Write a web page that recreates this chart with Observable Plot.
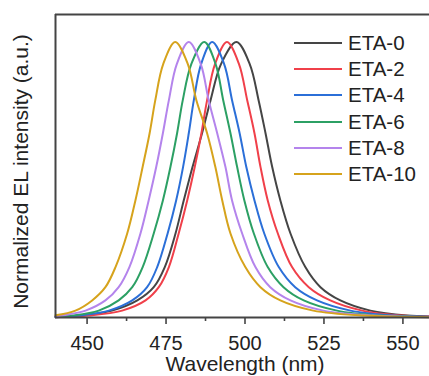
<!DOCTYPE html>
<html>
<head>
<meta charset="utf-8">
<script src="https://cdn.jsdelivr.net/npm/d3@7"></script>
<script src="https://cdn.jsdelivr.net/npm/@observablehq/plot@0.6"></script>
<style>
  body { margin: 0; background: #fff; }
  #wrap { position: relative; width: 429px; height: 376px; overflow: hidden; background: #fff; }
  #legend { position: absolute; left: 294px; top: 30px; font-family: "Liberation Sans", Arial, sans-serif; font-size: 20.5px; color: #222; }
  .row { display: flex; align-items: center; height: 26.2px; }
  .row svg { margin-right: 6px; }
</style>
</head>
<body>
<div id="wrap"><div id="legend"></div></div>
<script>
const seriesNames = ["ETA-0", "ETA-2", "ETA-4", "ETA-6", "ETA-8", "ETA-10"];
const seriesColors = ["#454545", "#f0404a", "#2b6fd8", "#2ca064", "#b484ec", "#d6a31c"];
const xTicks = [450, 475, 500, 525, 550];
const xMinorTicks = [462.5, 487.5, 512.5, 537.5];

// [wavelength (nm), normalized intensity]
const eta0 = [[440,0.002],[448.4,0.007],[457.9,0.025],[465.9,0.062],[471.1,0.110],[474.6,0.183],[478.0,0.305],[480.6,0.425],[483.4,0.547],[486.4,0.669],[489.1,0.789],[492.4,0.92],[497.3,1.0],[501.5,0.92],[504.3,0.789],[506.5,0.669],[508.6,0.547],[511.2,0.425],[514.4,0.305],[519.1,0.183],[523.9,0.110],[530.2,0.062],[539.7,0.025],[551.3,0.007],[560,0.003]];
const eta2 = [[440,0.001],[450.5,0.007],[461.1,0.025],[468.5,0.062],[472.7,0.110],[475.9,0.183],[479.0,0.305],[481.7,0.425],[484.1,0.547],[486.2,0.669],[488.0,0.789],[490.5,0.92],[494.3,1.0],[498.1,0.92],[500.7,0.789],[503.0,0.669],[504.9,0.547],[507.2,0.425],[510.4,0.305],[514.9,0.183],[520.2,0.110],[527.0,0.062],[537.1,0.025],[549.2,0.007],[560,0.003]];
const eta4 = [[440,0.001],[447.4,0.007],[456.9,0.025],[464.3,0.062],[469.0,0.110],[472.2,0.183],[475.5,0.305],[478.2,0.425],[480.4,0.547],[482.2,0.669],[483.8,0.789],[486.1,0.92],[489.6,1.0],[493.4,0.92],[495.9,0.789],[498.3,0.669],[500.4,0.547],[503.0,0.425],[506.1,0.305],[510.7,0.183],[515.9,0.110],[522.8,0.062],[533.4,0.025],[547.1,0.007],[560,0.002]];
const eta6 = [[440,0.002],[445.3,0.007],[453.7,0.025],[460.0,0.062],[464.3,0.110],[467.6,0.183],[471.1,0.305],[474.0,0.425],[476.4,0.547],[478.5,0.669],[480.3,0.789],[483.0,0.92],[487.1,1.0],[490.7,0.92],[493.1,0.789],[495.4,0.669],[497.5,0.547],[499.8,0.425],[502.8,0.305],[507.2,0.183],[512.2,0.110],[518.6,0.062],[529.1,0.025],[542.8,0.007],[560,0.002]];
const eta8 = [[440,0.003],[442,0.007],[449.5,0.025],[455.8,0.062],[460.0,0.110],[463.4,0.183],[466.9,0.305],[469.5,0.425],[471.9,0.547],[474.0,0.669],[475.9,0.789],[478.4,0.92],[482.2,1.0],[486.0,0.92],[488.5,0.789],[491.2,0.669],[493.8,0.547],[495.9,0.425],[499.1,0.305],[503.3,0.183],[508.0,0.110],[514.4,0.062],[524.8,0.025],[540.6,0.007],[560,0.001]];
const eta10 = [[440,0.008],[446.3,0.025],[451.6,0.062],[455.8,0.110],[459.0,0.183],[462.7,0.305],[465.3,0.425],[467.6,0.547],[469.8,0.669],[471.6,0.789],[474.1,0.92],[477.9,1.0],[481.9,0.92],[484.6,0.789],[488.0,0.669],[490.6,0.547],[492.8,0.425],[495.4,0.305],[500.1,0.183],[504.9,0.110],[511.2,0.062],[521.6,0.025],[537.5,0.007],[560,0.001]];

const seriesData = [eta0, eta2, eta4, eta6, eta8, eta10];
const rows = seriesData.flatMap((arr, i) => arr.map(([w, v]) => ({series: seriesNames[i], w, v})));

const font = "'Liberation Sans', Arial, sans-serif";
const axisColor = "#444";

const chart = Plot.plot({
  width: 429,
  height: 376,
  marginLeft: 55,
  marginTop: 14,
  marginBottom: 59,
  marginRight: 0,
  style: {fontFamily: font, background: "transparent", color: "#222"},
  x: {domain: [440, 560], range: [55, 434]},
  y: {domain: [0, 1.1], range: [317, 14], axis: null},
  color: {domain: seriesNames, range: seriesColors},
  marks: [
    Plot.line(rows, {x: "w", y: "v", z: "series", stroke: "series", curve: "catmull-rom", strokeWidth: 2}),
    Plot.ruleX([440], {stroke: axisColor, strokeWidth: 2}),
    Plot.ruleY([0], {stroke: axisColor, strokeWidth: 2}),
    Plot.ruleY([1.1], {stroke: axisColor, strokeWidth: 2}),
    Plot.axisX({ticks: xTicks, tickSize: 7, tickPadding: 11, fontSize: 20, label: null, stroke: axisColor, strokeWidth: 1.6, fill: "#222"}),
    Plot.axisX({ticks: xMinorTicks, tickSize: 4, tickFormat: () => "", label: null, stroke: axisColor, strokeWidth: 1.6}),
    Plot.text(["Wavelength (nm)"], {frameAnchor: "bottom", textAnchor: "middle", lineAnchor: "middle", dx: 2.5, dy: 47, fontSize: 21, fill: "#222"}),
    Plot.text(["Normalized EL intensity (a.u.)"], {frameAnchor: "left", textAnchor: "middle", lineAnchor: "middle", rotate: -90, dx: -34, dy: 5.5, fontSize: 21, fill: "#222"})
  ]
});
document.getElementById("wrap").prepend(chart);

const legend = document.getElementById("legend");
seriesNames.forEach((name, i) => {
  const row = document.createElement("div");
  row.className = "row";
  row.innerHTML = `<svg width="48" height="4"><line x1="0" y1="2" x2="48" y2="2" stroke="${seriesColors[i]}" stroke-width="2"/></svg><span>${name}</span>`;
  legend.appendChild(row);
});
</script>
</body>
</html>
